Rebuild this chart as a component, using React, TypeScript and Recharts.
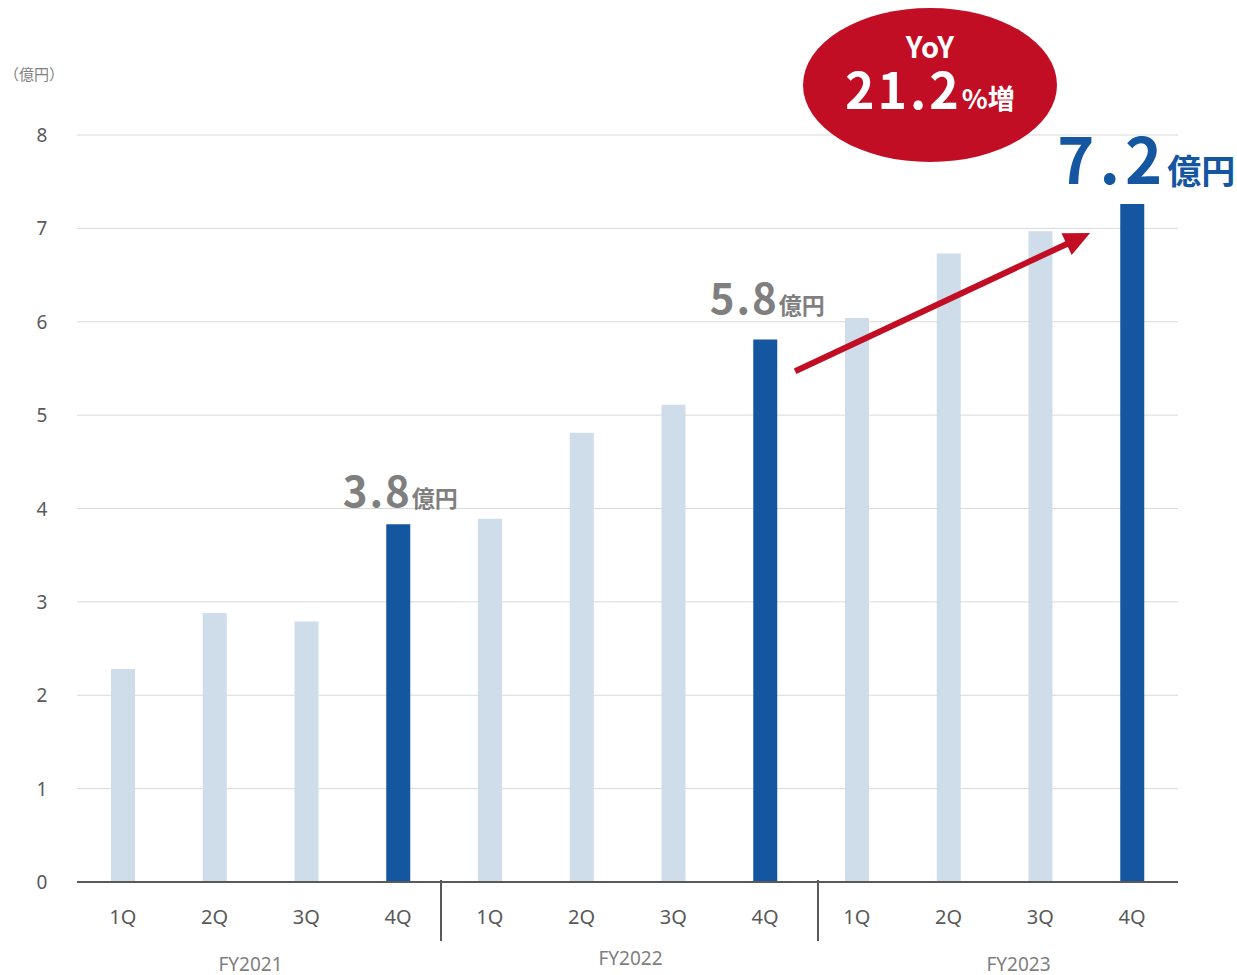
import React from "react";
import {
  ComposedChart,
  Bar,
  Cell,
  XAxis,
  YAxis,
  CartesianGrid,
  LabelList,
  ReferenceLine,
} from "recharts";

const quarters = ["1Q", "2Q", "3Q", "4Q", "1Q", "2Q", "3Q", "4Q", "1Q", "2Q", "3Q", "4Q"];
const fiscalYears = ["FY2021", "FY2021", "FY2021", "FY2021", "FY2022", "FY2022", "FY2022", "FY2022", "FY2023", "FY2023", "FY2023", "FY2023"];
const values = [2.28, 2.88, 2.79, 3.83, 3.89, 4.81, 5.11, 5.81, 6.04, 6.73, 6.97, 7.26];
const highlighted = [false, false, false, true, false, false, false, true, false, false, false, true];
const yTicks = [0, 1, 2, 3, 4, 5, 6, 7, 8];
const barLabels: Record<number, string> = { 3: "3.8", 7: "5.8", 11: "7.2" };
const unitLabel = "（億円）";
const yoyTitle = "YoY";
const yoyValue = "21.2";
const yoyUnit = "%増";

const data = quarters.map((q, i) => ({
  key: `${fiscalYears[i]}-${q}`,
  q,
  fy: fiscalYears[i],
  value: values[i],
  hi: highlighted[i],
}));

const LIGHT = "#cfdcea";
const DARK = "#1457a0";
const RED = "#c20e25";
const TICK = "#595959";
const FONT = "'Noto Sans', 'Open Sans', sans-serif";
const JFONT = "'Noto Sans CJK JP', 'Noto Sans', sans-serif";

const XTick = (props: any) => {
  const { x, y, payload, index } = props;
  const half = payload && payload.offset ? payload.offset : 46;
  const d = data[index];
  const els: any[] = [];
  els.push(
    <text key="q" x={x} y={y + 26} textAnchor="middle" dominantBaseline="central" fill={TICK} fontSize={20} fontFamily={FONT}>
      {d ? d.q : payload.value}
    </text>
  );
  if (index === 3 || index === 7) {
    const sh = index === 3 ? -3 : 7;
    els.push(<line key="sep" x1={x + half + sh} x2={x + half + sh} y1={y - 10} y2={y + 51} stroke={TICK} strokeWidth={2} />);
  }
  if (index % 4 === 1) {
    const shifts = [-10, 3, 24];
    const dys = [74, 68, 74];
    const g = Math.floor(index / 4);
    els.push(
      <text key="fy" x={x + half + shifts[g]} y={y + dys[g]} textAnchor="middle" dominantBaseline="central" fill="#7f7f7f" fontSize={19} fontFamily={FONT}>
        {d.fy}
      </text>
    );
  }
  return <g>{els}</g>;
};

const YTick = (props: any) => {
  const { y, payload } = props;
  return (
    <text x={42} y={y} textAnchor="middle" dominantBaseline="central" fill={TICK} fontSize={19} fontFamily={FONT}>
      {payload.value}
    </text>
  );
};

const BarLabel = (props: any) => {
  const { x, y, width, index } = props;
  const txt = barLabels[index];
  if (!txt) return null;
  const cx = x + width / 2;
  if (index === 11) {
    return (
      <text x={cx + 14} y={y - 20} textAnchor="middle" fontFamily={JFONT} fontWeight={700} fill={DARK}>
        <tspan fontSize={63} letterSpacing={5}>{txt}</tspan>
        <tspan fontSize={34}>億円</tspan>
      </text>
    );
  }
  const dy = index === 3 ? 17 : 25;
  return (
    <text x={cx + 2} y={y - dy} textAnchor="middle" fontFamily={JFONT} fontWeight={700} fill="#7f7f7f">
      <tspan fontSize={42} letterSpacing={2}>{txt}</tspan>
      <tspan fontSize={23}>億円</tspan>
    </text>
  );
};

const ArrowShape = (props: any) => {
  const { x1, y1, x2, y2 } = props;
  if ([x1, y1, x2, y2].some((v) => typeof v !== "number" || isNaN(v))) return null;
  const sx = x1 + 30;
  const ex = x2 - 42;
  const ang = Math.atan2(y2 - y1, ex - sx);
  const head = 26;
  const hw = 12;
  const bx = ex - head * Math.cos(ang);
  const by = y2 - head * Math.sin(ang);
  const px = -Math.sin(ang) * hw;
  const py = Math.cos(ang) * hw;
  return (
    <g>
      <line x1={sx} y1={y1} x2={bx + 2 * Math.cos(ang)} y2={by + 2 * Math.sin(ang)} stroke={RED} strokeWidth={6} />
      <polygon points={`${ex},${y2} ${bx + px},${by + py} ${bx - px},${by - py}`} fill={RED} />
    </g>
  );
};

export default function App() {
  return (
    <div style={{ position: "absolute", left: 0, top: 0, width: 1237, height: 975, background: "#fff" }}>
      <ComposedChart
        width={1237}
        height={975}
        data={data}
        margin={{ top: 135, right: 59, bottom: 0, left: 0 }}
        barCategoryGap="0%"
      >
        <CartesianGrid vertical={false} stroke="#d9d9d9" strokeWidth={1} />
        <XAxis
          dataKey="key"
          type="category"
          height={93}
          tickLine={false}
          axisLine={{ stroke: TICK, strokeWidth: 2 }}
          tick={<XTick />}
          interval={0}
        />
        <YAxis
          width={77}
          domain={[0, 8]}
          ticks={yTicks}
          axisLine={false}
          tickLine={false}
          tick={<YTick />}
          interval={0}
        />
        <Bar dataKey="value" barSize={24} isAnimationActive={false}>
          {data.map((d, i) => (
            <Cell key={i} fill={d.hi ? DARK : LIGHT} />
          ))}
          <LabelList dataKey="value" content={<BarLabel />} />
        </Bar>
        <ReferenceLine
          segment={[
            { x: data[7].key, y: 5.47 },
            { x: data[11].key, y: 6.95 },
          ]}
          shape={<ArrowShape />}
          ifOverflow="visible"
        />
      </ComposedChart>
      <svg width={1237} height={975} style={{ position: "absolute", left: 0, top: 0, pointerEvents: "none" }}>
        <text x={34} y={73} textAnchor="middle" dominantBaseline="central" fill="#7f7f7f" fontSize={15} fontFamily={JFONT}>
          {unitLabel}
        </text>
        <ellipse cx={930} cy={85} rx={127} ry={77} fill={RED} />
        <text x={930} y={58} textAnchor="middle" fill="#fff" fontSize={29} fontWeight={700} fontFamily={JFONT}>
          {yoyTitle}
        </text>
        <text x={930} y={109} textAnchor="middle" fill="#fff" fontWeight={700} fontFamily={JFONT}>
          <tspan fontSize={50} letterSpacing={3}>{yoyValue}</tspan>
          <tspan fontSize={27}>{yoyUnit}</tspan>
        </text>
      </svg>
    </div>
  );
}
